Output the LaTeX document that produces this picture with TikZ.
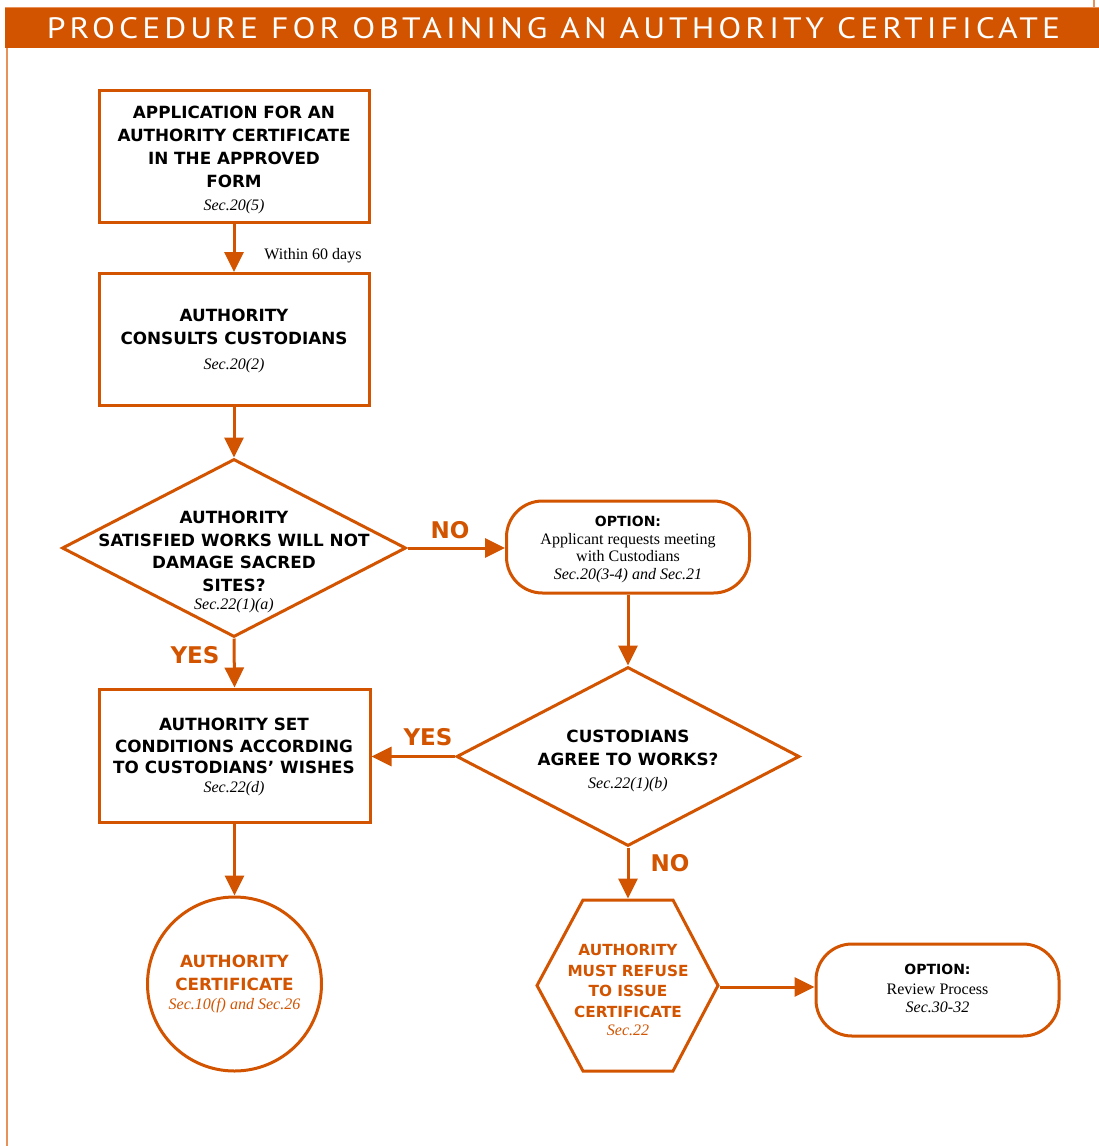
\documentclass[tikz,border=0pt]{standalone}
\usepackage{fontspec}
\usepackage{graphicx}
\setmainfont{Liberation Serif}
\newfontfamily\heavyfont{DejaVu Sans}
\newfontfamily\titlefont{PT Sans}[LetterSpace=12]
\usetikzlibrary{arrows.meta,shapes.geometric}
\definecolor{org}{RGB}{210,84,0}
\definecolor{lightorg}{RGB}{232,145,90}
\newcommand\hb{\heavyfont\bfseries}
\newcommand\secit[1]{{\rmfamily\mdseries\itshape\fontsize{16}{18}\selectfont #1}}
\begin{document}
\begin{tikzpicture}[x=1pt,y=-1pt,
  shapeline/.style={draw=org,line width=3pt,fill=white},
  boxnode/.style={shapeline,rectangle,minimum width=270pt,minimum height=132pt,inner sep=0pt},
  decnode/.style={shapeline,diamond,inner sep=0pt},
  optnode/.style={shapeline,rectangle,rounded corners=36pt,minimum width=243pt,minimum height=92pt,inner sep=0pt},
  circnode/.style={shapeline,circle,minimum size=174pt,inner sep=0pt},
  conn/.style={draw=org,line width=3pt,-{Triangle[length=20pt,width=19pt]}},
  lbltext/.style={text=org,inner sep=0pt,font=\hb\fontsize{23}{23}\selectfont},
  caps/.style={align=center,inner sep=0pt,font=\hb\fontsize{16.8}{23}\selectfont},
  smallcaps/.style={align=center,inner sep=0pt,font=\hb\fontsize{15.3}{20.7}\selectfont},
  opttext/.style={align=center,inner sep=0pt,font=\fontsize{16}{17.5}\selectfont},
]
\useasboundingbox (0,0) rectangle (1099,1146);
% header
\fill[org] (5,8) rectangle (1099,48);
\draw[lightorg,line width=1pt] (5,7.5) -- (1099,7.5);
\draw[lightorg,line width=2pt] (7,48) -- (7,1146);
\draw[lightorg,line width=2pt] (1094,0) -- (1094,8);
\node[text=white,inner sep=0pt] (title) at (553.5,28.5)
  {\resizebox{1013pt}{21pt}{\titlefont PROCEDURE FOR OBTAINING AN AUTHORITY CERTIFICATE}};

% shapes
\node[boxnode] (b1) at (234,156) {};
\node[boxnode] (b2) at (234,339.5) {};
\node[decnode,minimum width=344pt,minimum height=178pt] (d1) at (234,548) {};
\node[optnode] (o1) at (628,547) {};
\node[decnode,minimum width=343pt,minimum height=179pt] (d2) at (628,756.5) {};
\node[boxnode,minimum width=271pt,minimum height=133pt] (b3) at (234.5,755.5) {};
\node[circnode] (c1) at (234.5,984) {};
\draw[shapeline] (583,900) -- (673,900) -- (718,985.5) -- (673,1071) -- (583,1071) -- (537,985.5) -- cycle;
\coordinate (htop) at (628,898.5);
\coordinate (hright) at (719.5,987);
\node[optnode] (o2) at (937.5,990) {};

% texts
\node[caps] (t1) at (234,160) {APPLICATION FOR AN\\AUTHORITY CERTIFICATE\\IN THE APPROVED\\FORM\\\secit{Sec.20(5)}};
\node[caps] (t2) at (234,341) {AUTHORITY\\CONSULTS CUSTODIANS\\[2pt]\secit{Sec.20(2)}};
\node[caps,font=\hb\fontsize{16.8}{22.5}\selectfont] (t3) at (234,562) {AUTHORITY\\SATISFIED WORKS WILL NOT\\DAMAGE SACRED\\SITES?\\[-4.5pt]\secit{Sec.22(1)(a)}};
\node[opttext] (t4) at (628,549.5) {{\hb\fontsize{14}{17.5}\selectfont OPTION:}\\Applicant requests meeting\\with Custodians\\\textit{Sec.20(3-4) and Sec.21}};
\node[caps] (t5) at (628,761) {CUSTODIANS\\AGREE TO WORKS?\\\secit{Sec.22(1)(b)}};
\node[caps,font=\hb\fontsize{16.8}{21.5}\selectfont] (t6) at (234,757) {AUTHORITY SET\\CONDITIONS ACCORDING\\TO CUSTODIANS’ WISHES\\[-2.5pt]\secit{Sec.22(d)}};
\node[caps,text=org] (t7) at (234.5,984) {AUTHORITY\\CERTIFICATE\\[-4pt]\secit{Sec.10(f) and Sec.26}};
\node[smallcaps,text=org] (t8) at (628,990) {AUTHORITY\\MUST REFUSE\\TO ISSUE\\CERTIFICATE\\[-2.7pt]\secit{Sec.22}};
\node[opttext] (t9) at (937.5,988.5) {{\hb\fontsize{14}{20}\selectfont OPTION:}\\[2.5pt]Review Process\\\textit{Sec.30-32}};
\node[font=\fontsize{16}{18}\selectfont,inner sep=0pt] (w60) at (313,256) {Within 60 days};

% connectors
\draw[conn] (b1.south) -- (b2.north);
\draw[conn] (b2.south) -- (d1.north);
\draw[conn] (d1.east) -- (o1.west |- d1.east);
\draw[conn] (o1.south) -- (d2.north);
\draw[conn] (d1.south) -- (b3.north);
\draw[conn] (d2.west) -- (d2.west -| b3.east);
\draw[conn] (b3.south) -- (c1.north);
\draw[conn] (d2.south) -- (htop);
\draw[conn] (hright) -- (o2.west |- hright);

% labels
\node[lbltext] (lno1) at (450,530) {NO};
\node[lbltext] (lyes1) at (195,655) {YES};
\node[lbltext] (lyes2) at (428,737) {YES};
\node[lbltext] (lno2) at (670,863) {NO};
\end{tikzpicture}
\end{document}
